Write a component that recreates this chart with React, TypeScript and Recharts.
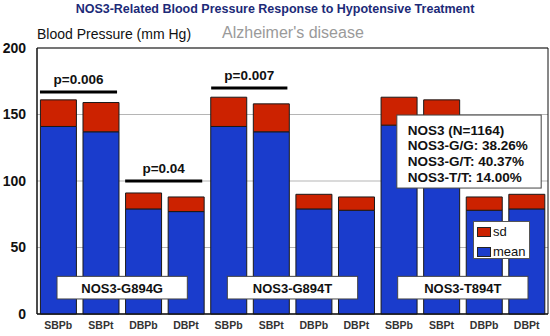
import React from 'react';
import {
  BarChart, Bar, XAxis, YAxis, CartesianGrid, ReferenceArea, ReferenceLine, Legend,
} from 'recharts';

// ---- data ----
const categories = ['SBPb', 'SBPt', 'DBPb', 'DBPt'];
const genotypes = ['NOS3-G894G', 'NOS3-G894T', 'NOS3-T894T'];
const meanValues = [141, 137, 79, 77, 141, 137, 79, 78, 142, 139, 78, 79];
const sdValues = [20, 22, 12, 11, 22, 21, 11, 10, 21, 22, 10, 11];
const yTicks = [0, 50, 100, 150, 200];
const pLabels = ['p=0.006', 'p=0.04', 'p=0.007'];
const pLevels = [167, 100, 170];
const freqLines = ['NOS3 (N=1164)', 'NOS3-G/G: 38.26%', 'NOS3-G/T: 40.37%', 'NOS3-T/T: 14.00%'];
const seriesNames = ['mean', 'sd'];

const data = genotypes.flatMap((g, gi) =>
  categories.map((c, ci) => ({
    key: `${g}-${c}`,
    label: c,
    idx: gi * 4 + ci + 0.5,
    mean: meanValues[gi * 4 + ci],
    sd: sdValues[gi * 4 + ci],
  }))
);

const BLUE = '#1a3ccc';
const RED = '#cc2200';
const FONT = '"Liberation Sans", Arial, sans-serif';

// p-value bracket spans, in bar-index units on the hidden numeric axis
const pSpans = [
  [0.07, 1.88],
  [2.07, 3.88],
  [4.09, 5.88],
];

const boxLabel = (text: string) => (props: any) => {
  const vb = props.viewBox || {};
  return (
    <g>
      <rect x={vb.x} y={vb.y} width={vb.width} height={vb.height} fill="#fff" stroke="#444" strokeWidth={1} />
      <text x={vb.x + vb.width / 2} y={vb.y + vb.height / 2 + 1} textAnchor="middle" dominantBaseline="central"
        fontFamily={FONT} fontWeight="bold" fontSize={13} fill="#111">{text}</text>
    </g>
  );
};

const infoLabel = (props: any) => {
  const vb = props.viewBox || {};
  const offs = [15, 30, 46, 62];
  return (
    <g>
      <rect x={vb.x} y={vb.y} width={vb.width} height={vb.height} fill="#fff" stroke="#444" strokeWidth={1} />
      {freqLines.map((t, i) => (
        <text key={t} x={vb.x + 11} y={vb.y + offs[i]} dominantBaseline="central"
          fontFamily={FONT} fontWeight="bold" fontSize={13.5} fill="#111">{t}</text>
      ))}
    </g>
  );
};

const LegendContent = (props: any) => {
  const payload = [...(props.payload || [])].reverse();
  return (
    <div style={{ background: '#fff', border: '1px solid #555', width: 55, height: 36, boxSizing: 'content-box', fontFamily: FONT }}>
      {payload.map((p: any, i: number) => (
        <div key={p.value} style={{ display: 'flex', alignItems: 'center', height: 18, marginTop: i === 0 ? 1 : 2 }}>
          <span style={{ display: 'inline-block', width: 12, height: 8, background: p.color, border: '1px solid #222', marginLeft: 3, marginRight: 2 }} />
          <span style={{ fontSize: 13, color: '#111', lineHeight: '18px' }}>{p.value}</span>
        </div>
      ))}
    </div>
  );
};

export default function App() {
  return (
    <div style={{ position: 'absolute', left: 0, top: 0, width: 550, height: 336, background: '#fff' }}>
      <BarChart width={550} height={336} data={data} margin={{ top: 48, right: 2, bottom: 0, left: 0 }} barCategoryGap="8%">
        <CartesianGrid vertical={false} stroke="#b5b5b5" />
        <XAxis dataKey="key" height={22} tickLine={false} tickSize={0} tickMargin={8}
          axisLine={{ stroke: '#111' }} interval={0}
          tickFormatter={(v: any, i: number) => data[i] ? data[i].label : v}
          tick={{ fontSize: 10.5, fontWeight: 'bold', fill: '#333', fontFamily: FONT }} />
        <XAxis xAxisId="num" type="number" dataKey="idx" domain={[0, 12]} hide allowDataOverflow />
        <YAxis width={37} domain={[0, 200]} ticks={yTicks} tickLine={false} tickSize={0} tickMargin={11}
          axisLine={{ stroke: '#111' }} interval={0}
          tick={{ fontSize: 14, fontWeight: 'bold', fill: '#111', fontFamily: FONT }} />
        <Bar dataKey="mean" name={seriesNames[0]} stackId="a" fill={BLUE} stroke="#1a1a1a" strokeWidth={1} isAnimationActive={false} />
        <Bar dataKey="sd" name={seriesNames[1]} stackId="a" fill={RED} stroke="#1a1a1a" strokeWidth={1} isAnimationActive={false} />
        <ReferenceArea xAxisId="num" x1={0} x2={12} y1={0} y2={200} fill="none" stroke="#111" strokeWidth={1} fillOpacity={0} />
        {pLabels.map((t, i) => (
          <ReferenceLine key={t} xAxisId="num"
            segment={[{ x: pSpans[i][0], y: pLevels[i] }, { x: pSpans[i][1], y: pLevels[i] }]}
            stroke="#000" strokeWidth={3}
            label={{ value: t, position: 'top', offset: 8, fontSize: 13.5, fontWeight: 'bold', fill: '#111', fontFamily: FONT }} />
        ))}
        {genotypes.map((g, gi) => (
          <ReferenceArea key={g} xAxisId="num" x1={gi * 4 + 0.47} x2={gi * 4 + 3.53} y1={11.3} y2={28.3}
            fill="none" fillOpacity={0} stroke="none" zIndex={1500} label={boxLabel(g)} />
        ))}
        <ReferenceArea xAxisId="num" x1={8.45} x2={11.84} y1={94.7} y2={149.6}
          fill="none" fillOpacity={0} stroke="none" zIndex={1500} label={infoLabel} />
        <Legend layout="horizontal" verticalAlign="middle" align="center" content={LegendContent}
          wrapperStyle={{ position: 'absolute', left: 473, top: 221, width: 57, height: 38 }} />
      </BarChart>
      <div style={{ position: 'absolute', left: 0, width: 550, top: 1, textAlign: 'center', fontFamily: FONT, fontWeight: 'bold', fontSize: 12.5, color: '#1c2a78', lineHeight: '16px', whiteSpace: 'nowrap' }}>
        NOS3-Related Blood Pressure Response to Hypotensive Treatment
      </div>
      <div style={{ position: 'absolute', left: 37, top: 26, fontFamily: FONT, fontSize: 14, color: '#111', lineHeight: '16px', whiteSpace: 'nowrap' }}>
        Blood Pressure (mm Hg)
      </div>
      <div style={{ position: 'absolute', left: 222, top: 23, fontFamily: FONT, fontSize: 16, color: '#9a9a9a', lineHeight: '20px', whiteSpace: 'nowrap' }}>
        Alzheimer's disease
      </div>
    </div>
  );
}
